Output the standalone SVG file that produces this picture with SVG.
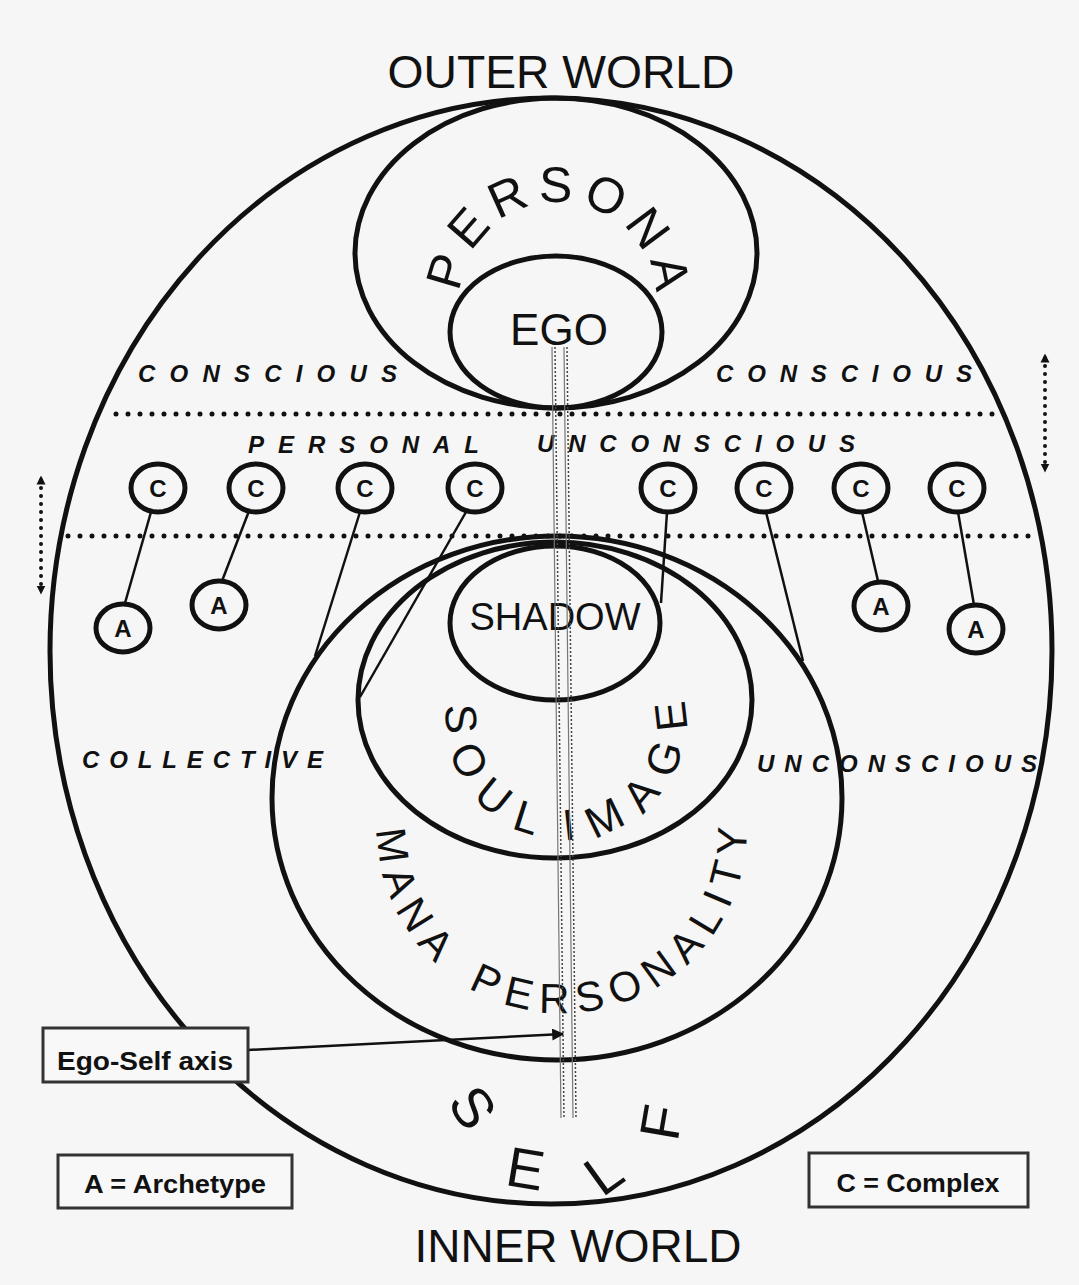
<svg xmlns="http://www.w3.org/2000/svg" width="1079" height="1285" viewBox="0 0 1079 1285">
<defs>
<style>
.ring{fill:none;stroke:#111;stroke-width:5}
.cn{fill:none;stroke:#111;stroke-width:5}
.lt{font-family:"Liberation Sans",Arial,sans-serif;font-weight:bold;font-size:24px;fill:#111;text-anchor:middle}
.big{font-family:"Liberation Sans",Arial,sans-serif;fill:#111}
.lab{font-family:"Liberation Sans",Arial,sans-serif;font-weight:bold;font-style:italic;font-size:24px;fill:#111}
.leg{font-family:"Liberation Sans",Arial,sans-serif;font-weight:bold;font-size:26px;fill:#111;text-anchor:middle}
.dots{stroke:#111;stroke-width:5;stroke-dasharray:0 12;stroke-linecap:round;fill:none}
.vdots{stroke:#111;stroke-width:4;stroke-dasharray:0 8;stroke-linecap:round;fill:none}
.link{stroke:#111;stroke-width:2.5;fill:none}
.box{fill:#f8f8f8;stroke:#333;stroke-width:3}
</style>
<marker id="ah" viewBox="0 0 10 10" refX="9" refY="5" markerWidth="14" markerHeight="12" markerUnits="userSpaceOnUse" orient="auto">
<path d="M0,0 L10,5 L0,10 z" fill="#111"/>
</marker>
<marker id="vh" viewBox="0 0 10 10" refX="5" refY="5" markerWidth="9" markerHeight="11" markerUnits="userSpaceOnUse" orient="auto-start-reverse">
<path d="M0,0 L10,5 L0,10 z" fill="#111"/>
</marker>
<path id="pPersona" d="M 460 300 A 98 98 0 0 1 656 300"/>
<path id="pSoul" d="M 453.2 679 A 120 120 0 1 0 678.8 679"/>
<path id="pMana" d="M 382.5 783.2 A 185 185 0 1 0 739.8 777"/>
<path id="pSelf" d="M 454.8 1056.7 A 117 117 0 1 0 685.2 1056.7"/>
</defs>
<rect width="1079" height="1285" fill="#f6f6f6"/>

<text class="big" x="561" y="88" font-size="46" text-anchor="middle" textLength="347" lengthAdjust="spacingAndGlyphs">OUTER WORLD</text>
<text class="big" x="578" y="1262" font-size="46" text-anchor="middle" textLength="327" lengthAdjust="spacingAndGlyphs">INNER WORLD</text>

<g id="layers">
<line class="dots" x1="116" y1="414" x2="1000" y2="414"/>
<line class="dots" x1="68" y1="536" x2="1030" y2="536"/>
<text class="lab" x="138" y="382" textLength="259" lengthAdjust="spacing">CONSCIOUS</text>
<text class="lab" x="716" y="382" textLength="256" lengthAdjust="spacing">CONSCIOUS</text>
<text class="lab" x="248" y="453" textLength="231" lengthAdjust="spacing">PERSONAL</text>
<text class="lab" x="537" y="452" textLength="318" lengthAdjust="spacing">UNCONSCIOUS</text>
<text class="lab" x="82" y="768" textLength="241" lengthAdjust="spacing">COLLECTIVE</text>
<text class="lab" x="757" y="772" textLength="280" lengthAdjust="spacing">UNCONSCIOUS</text>
</g>

<g id="self">
<ellipse class="ring" cx="551" cy="651" rx="501" ry="553"/>
<text class="big" font-size="56" letter-spacing="58"><textPath href="#pSelf" startOffset="42">SELF</textPath></text>
</g>
<g id="persona">
<ellipse class="ring" cx="556" cy="253" rx="201" ry="155"/>
<text class="big" font-size="50" letter-spacing="8" text-anchor="middle"><textPath href="#pPersona" startOffset="158">PERSONA</textPath></text>
</g>
<g id="ego">
<ellipse class="ring" cx="556" cy="332" rx="106" ry="76"/>
<text class="big" x="559" y="345" font-size="44" text-anchor="middle">EGO</text>
</g>
<g id="mana-personality">
<ellipse class="ring" cx="557" cy="798" rx="285" ry="262"/>
<text class="big" font-size="42" letter-spacing="9.5" word-spacing="12"><textPath href="#pMana" startOffset="47">MANA PERSONALITY</textPath></text>
</g>
<g id="soul-image">
<ellipse class="ring" cx="555" cy="700" rx="197" ry="158"/>
<text class="big" font-size="44" letter-spacing="17" word-spacing="-14"><textPath href="#pSoul" startOffset="27">SOUL IMAGE</textPath></text>
</g>
<g id="shadow">
<ellipse class="ring" cx="555" cy="623" rx="105" ry="77"/>
<text class="big" x="555" y="630" font-size="38" text-anchor="middle">SHADOW</text>
</g>

<g id="connectors">
<line class="vdots" x1="41" y1="480" x2="41" y2="590" marker-start="url(#vh)" marker-end="url(#vh)"/>
<line class="vdots" x1="1045" y1="358" x2="1045" y2="468" marker-start="url(#vh)" marker-end="url(#vh)"/>
<line class="link" x1="151" y1="512" x2="125" y2="603"/>
<line class="link" x1="249" y1="511" x2="222" y2="581"/>
<line class="link" x1="360" y1="512" x2="315" y2="656"/>
<line class="link" x1="466" y1="512" x2="360" y2="697"/>
<line class="link" x1="667" y1="512" x2="661" y2="603"/>
<line class="link" x1="766" y1="512" x2="803" y2="661"/>
<line class="link" x1="862" y1="512" x2="878" y2="581"/>
<line class="link" x1="958" y1="512" x2="974" y2="605"/>
<line stroke="#777" stroke-width="1.2" x1="552" y1="347" x2="561" y2="1118"/>
<line stroke="#444" stroke-width="1.5" stroke-dasharray="2 2" x1="555" y1="347" x2="564" y2="1118"/>
<line stroke="#777" stroke-width="1.2" x1="564" y1="347" x2="573" y2="1118"/>
<line stroke="#444" stroke-width="1.5" stroke-dasharray="2 2" x1="567" y1="347" x2="576" y2="1118"/>
<line class="link" x1="248" y1="1050" x2="563" y2="1034" marker-end="url(#ah)"/>
</g>

<g id="c1"><ellipse class="cn" cx="158" cy="488" rx="27" ry="24"/><text class="lt" x="158" y="497">C</text></g>
<g id="c2"><ellipse class="cn" cx="256" cy="488" rx="27" ry="24"/><text class="lt" x="256" y="497">C</text></g>
<g id="c3"><ellipse class="cn" cx="365" cy="488" rx="27" ry="24"/><text class="lt" x="365" y="497">C</text></g>
<g id="c4"><ellipse class="cn" cx="475" cy="488" rx="27" ry="24"/><text class="lt" x="475" y="497">C</text></g>
<g id="c5"><ellipse class="cn" cx="668" cy="488" rx="27" ry="24"/><text class="lt" x="668" y="497">C</text></g>
<g id="c6"><ellipse class="cn" cx="764" cy="488" rx="27" ry="24"/><text class="lt" x="764" y="497">C</text></g>
<g id="c7"><ellipse class="cn" cx="861" cy="488" rx="27" ry="24"/><text class="lt" x="861" y="497">C</text></g>
<g id="c8"><ellipse class="cn" cx="957" cy="488" rx="27" ry="24"/><text class="lt" x="957" y="497">C</text></g>
<g id="a1"><ellipse class="cn" cx="123" cy="628" rx="27" ry="24"/><text class="lt" x="123" y="637">A</text></g>
<g id="a2"><ellipse class="cn" cx="219" cy="605" rx="27" ry="24"/><text class="lt" x="219" y="614">A</text></g>
<g id="a3"><ellipse class="cn" cx="881" cy="606" rx="27" ry="24"/><text class="lt" x="881" y="615">A</text></g>
<g id="a4"><ellipse class="cn" cx="976" cy="629" rx="27" ry="24"/><text class="lt" x="976" y="638">A</text></g>

<g id="ego-self-axis-label"><rect class="box" x="43" y="1028" width="205" height="54"/><text class="leg" x="145" y="1070" textLength="176" lengthAdjust="spacingAndGlyphs">Ego-Self axis</text></g>
<g id="legend-archetype"><rect class="box" x="58" y="1155" width="234" height="53"/><text class="leg" x="175" y="1193" textLength="182" lengthAdjust="spacingAndGlyphs">A = Archetype</text></g>
<g id="legend-complex"><rect class="box" x="809" y="1153" width="219" height="54"/><text class="leg" x="918" y="1192" textLength="163" lengthAdjust="spacingAndGlyphs">C = Complex</text></g>
</svg>
